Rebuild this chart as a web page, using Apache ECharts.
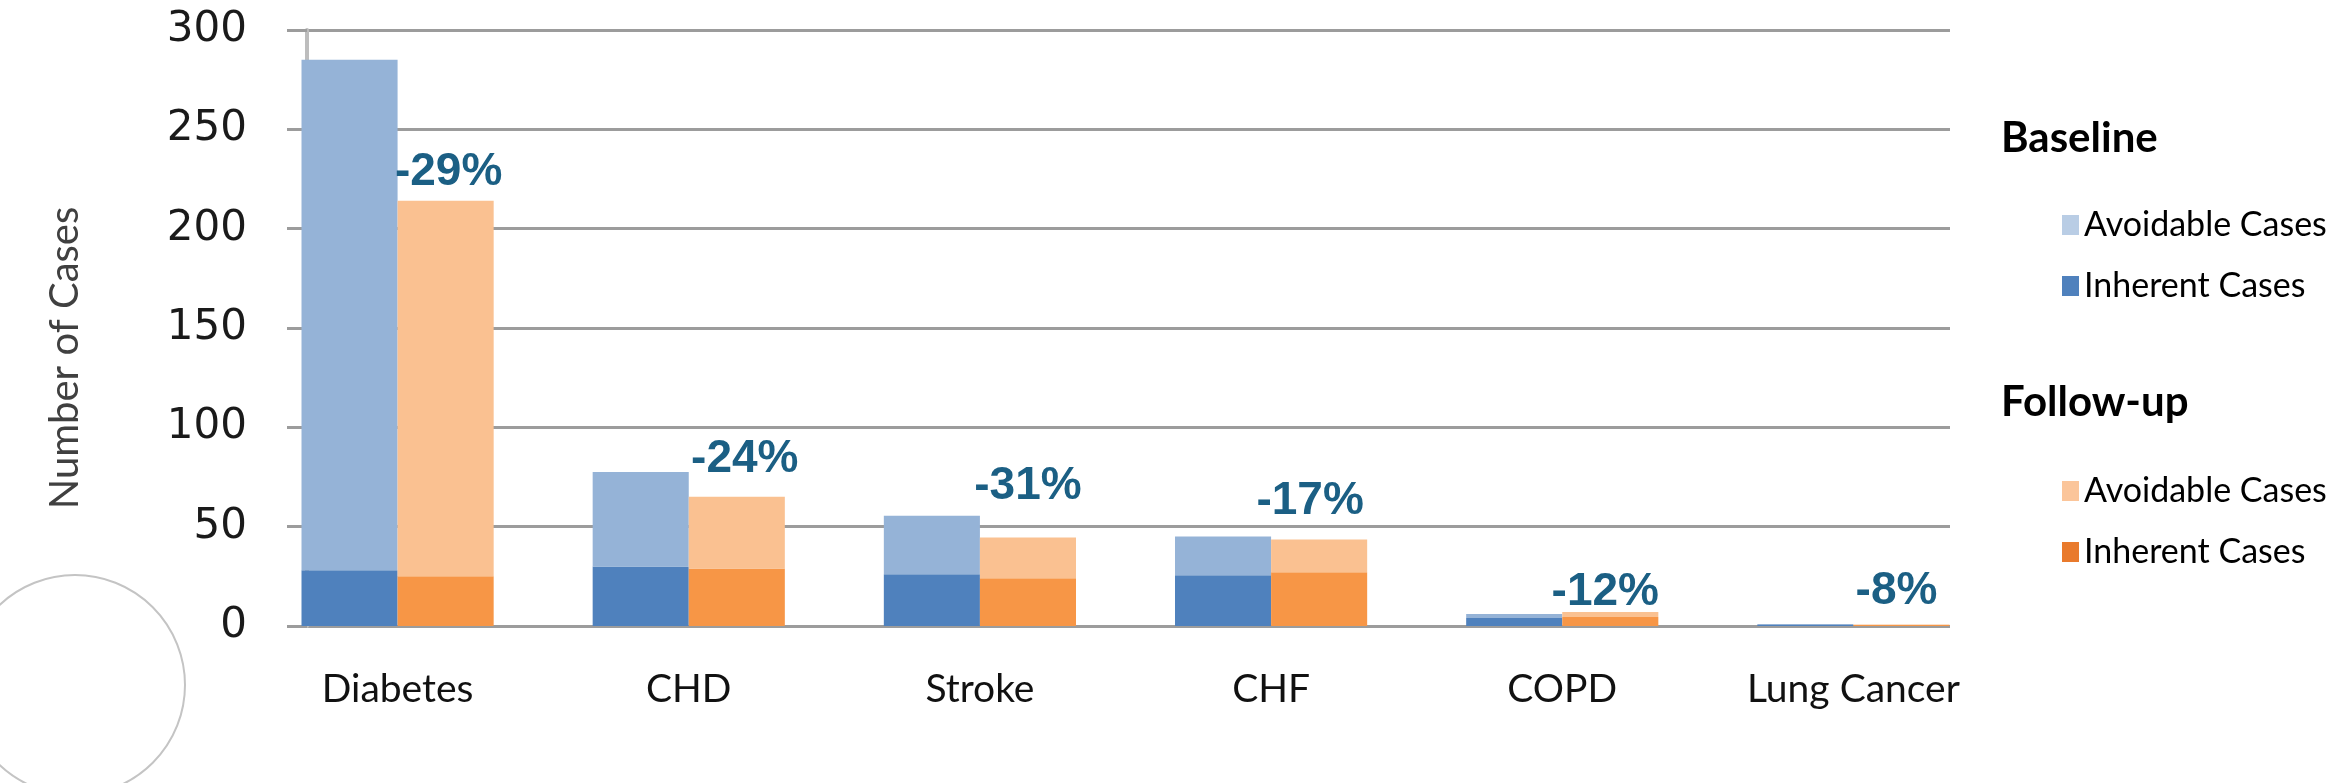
<!DOCTYPE html>
<html>
<head>
<meta charset="utf-8">
<script src="https://cdn.jsdelivr.net/npm/echarts@6/dist/echarts.min.js"></script>
<style>
  html, body { margin: 0; padding: 0; background: #fff; }
  #chart { width: 2348px; height: 783px; }
</style>
</head>
<body>
<div id="chart"></div>
<script>
const categories = ['Diabetes', 'CHD', 'Stroke', 'CHF', 'COPD', 'Lung Cancer']
const baseInherent = [28, 30, 26, 25.5, 4, 0.5]
const baseAvoidable = [257, 47.5, 29.5, 19.5, 2, 0.5]
const followInherent = [25, 29, 24, 27, 4.5, 0.5]
const followAvoidable = [189, 36, 20.6, 16.6, 2.5, 0.3]
const changeLabels = ['-29%', '-24%', '-31%', '-17%', '-12%', '-8%']
const yTicks = [0, 50, 100, 150, 200, 250, 300]

// small hand nudges for the percent labels (style only)
const pctNudge = [[3, 0], [8, -9], [0, -22], [-9, -9], [-5, 9], [-5, -4]]

const chart = echarts.init(document.getElementById('chart'))

const gridLine = { color: '#9c9c9c', width: 3 }

chart.setOption({
  backgroundColor: '#fff',
  animation: false,
  title: [
    { text: 'Baseline', left: 1996, top: 112, textStyle: { fontFamily: 'Lato', fontSize: 42, fontWeight: 'bold', color: '#000' } },
    { text: 'Follow-up', left: 1996, top: 376, textStyle: { fontFamily: 'Lato', fontSize: 42, fontWeight: 'bold', color: '#000' } }
  ],
  legend: [
    {
      orient: 'vertical',
      left: 2057,
      top: 202,
      itemWidth: 17,
      itemHeight: 20,
      itemGap: 25,
      icon: 'rect',
      data: [
        { name: 'Baseline Avoidable', itemStyle: { color: '#b9cde5' } },
        { name: 'Baseline Inherent', itemStyle: { color: '#4f81bd' } }
      ],
      formatter: name => name.split(' ')[1] + ' Cases',
      textStyle: { fontFamily: 'Lato', fontSize: 34, color: '#000', lineHeight: 36 }
    },
    {
      orient: 'vertical',
      left: 2057,
      top: 468,
      itemWidth: 17,
      itemHeight: 20,
      itemGap: 25,
      icon: 'rect',
      data: [
        { name: 'Follow-up Avoidable', itemStyle: { color: '#fbc59a' } },
        { name: 'Follow-up Inherent', itemStyle: { color: '#e97a2c' } }
      ],
      formatter: name => name.split(' ')[1] + ' Cases',
      textStyle: { fontFamily: 'Lato', fontSize: 34, color: '#000', lineHeight: 36 }
    }
  ],
  grid: [
    { left: 307, right: 398, top: 30, bottom: 157 },
    { left: 252, right: 349, top: 30, bottom: 157 }
  ],
  xAxis: [
    { gridIndex: 0, type: 'category', data: categories, show: false },
    {
      gridIndex: 1,
      type: 'category',
      data: categories,
      axisLine: { show: false },
      axisTick: { show: false },
      axisLabel: { margin: 44, fontFamily: 'Lato', fontSize: 39, color: '#111' }
    }
  ],
  yAxis: [
    {
      gridIndex: 0,
      type: 'value',
      min: yTicks[0],
      max: yTicks[yTicks.length - 1],
      interval: 50,
      name: 'Number of Cases',
      nameLocation: 'middle',
      nameGap: 222,
      nameTextStyle: { fontFamily: 'Lato', fontSize: 40, color: '#404040', padding: [0, 60, 0, 0] },
      axisLine: { show: true, lineStyle: { color: '#bdbdbd', width: 4 } },
      axisTick: { show: true, length: 20, lineStyle: gridLine },
      axisLabel: { margin: 60, fontFamily: 'DejaVu Sans', fontSize: 42, color: '#1a1a1a' },
      splitLine: { show: true, lineStyle: gridLine }
    },
    { gridIndex: 1, type: 'value', min: 0, max: 300, show: false, splitLine: { show: false } }
  ],
  graphic: [
    {
      type: 'circle',
      shape: { cx: 75, cy: 685, r: 110 },
      style: { fill: 'none', stroke: '#c4c4c4', lineWidth: 2 },
      z: -1
    }
  ],
  series: [
    {
      name: 'Baseline Inherent',
      type: 'bar',
      stack: 'base',
      xAxisIndex: 1,
      yAxisIndex: 1,
      barWidth: '33%',
      barGap: '0%',
      itemStyle: { color: '#4f81bd' },
      data: baseInherent
    },
    {
      name: 'Baseline Avoidable',
      type: 'bar',
      stack: 'base',
      xAxisIndex: 1,
      yAxisIndex: 1,
      barWidth: '33%',
      barGap: '0%',
      itemStyle: { color: '#95b3d7' },
      data: baseAvoidable
    },
    {
      name: 'Follow-up Inherent',
      type: 'bar',
      stack: 'follow',
      xAxisIndex: 1,
      yAxisIndex: 1,
      barWidth: '33%',
      barGap: '0%',
      itemStyle: { color: '#f79646' },
      data: followInherent
    },
    {
      name: 'Follow-up Avoidable',
      type: 'bar',
      stack: 'follow',
      xAxisIndex: 1,
      yAxisIndex: 1,
      barWidth: '33%',
      barGap: '0%',
      itemStyle: { color: '#fac191' },
      data: followAvoidable.map((v, i) => ({
        value: v,
        label: {
          show: true,
          position: 'top',
          distance: 6,
          offset: pctNudge[i],
          formatter: changeLabels[i],
          fontFamily: 'Liberation Sans',
          fontWeight: 'bold',
          fontSize: 46,
          color: '#1b5f84'
        }
      }))
    }
  ]
})
</script>
</body>
</html>
